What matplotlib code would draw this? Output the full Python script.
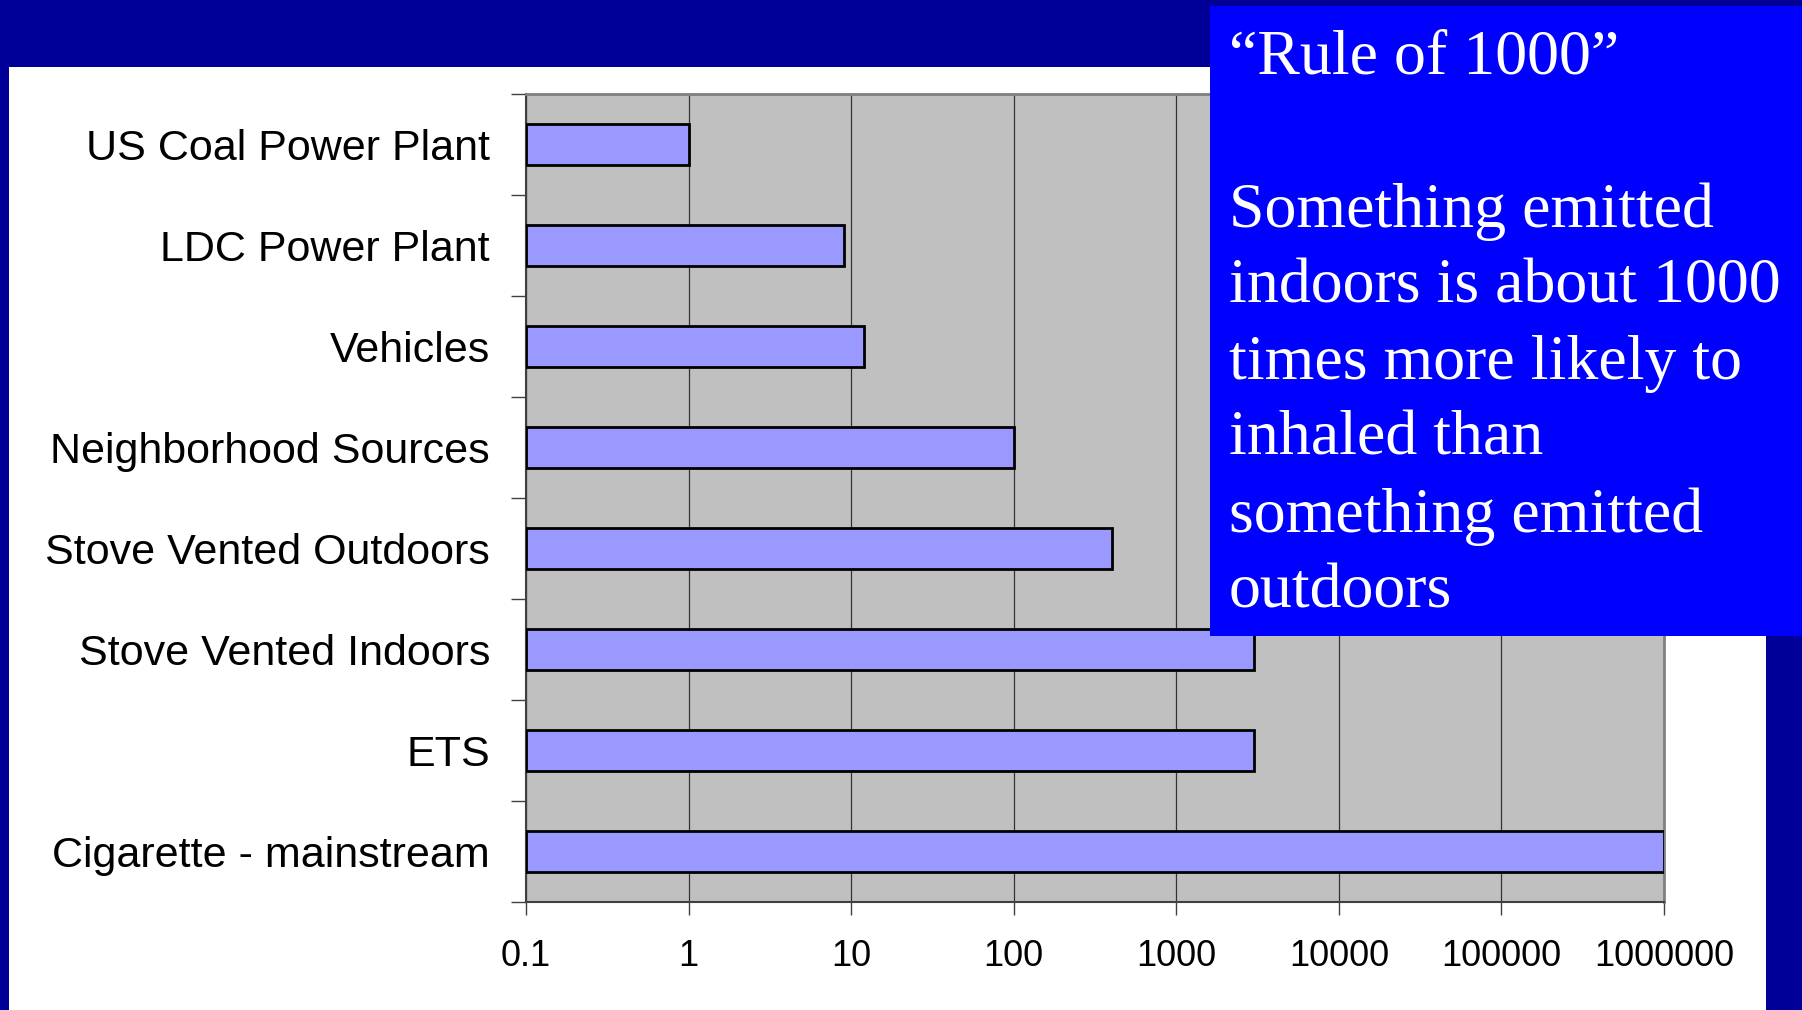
import numpy as np
import matplotlib.pyplot as plt
from matplotlib.patches import Rectangle

sources = ["US Coal Power Plant", "LDC Power Plant", "Vehicles",
           "Neighborhood Sources", "Stove Vented Outdoors",
           "Stove Vented Indoors", "ETS", "Cigarette - mainstream"]
intake = [1, 9, 12, 100, 400, 3000, 3000, 1000000]
xticks = [0.1, 1, 10, 100, 1000, 10000, 100000, 1000000]
xtick_labels = ["0.1", "1", "10", "100", "1000", "10000", "100000", "1000000"]

box_text = ("\u201cRule of 1000\u201d\n\nSomething emitted\nindoors is about 1000\n"
            "times more likely to\ninhaled than\nsomething emitted\noutdoors")

W, H = 1802, 1010
fig = plt.figure(figsize=(W / 100, H / 100), dpi=100)
fig.patch.set_facecolor("#000099")

# white slide area
fig.add_artist(Rectangle((9 / W, 0), (1766 - 9) / W, 1 - 67 / H,
                         transform=fig.transFigure, facecolor="white",
                         edgecolor="none", zorder=0))

ax = fig.add_axes([526 / W, 1 - 902 / H, (1664 - 526) / W, (902 - 94) / H])
ax.set_facecolor("#C0C0C0")

pos = np.arange(len(sources))
# bars start at the left edge of the log axis (0.1)
ax.barh(pos, np.array(intake) - 0.1, left=0.1, height=0.4, color="#9999FF",
        edgecolor="black", linewidth=2, zorder=3)

ax.set_xscale("log")
ax.set_xlim(0.1, 1e6)
ax.set_ylim(len(sources) - 0.5, -0.5)

ax.set_xticks(xticks)
ax.set_xticklabels(xtick_labels, fontsize=26, family="Liberation Sans")
ax.xaxis.set_minor_locator(plt.NullLocator())
ax.tick_params(axis="x", direction="out", length=9, width=1, color="#404040", pad=18)

ax.set_yticks(pos)
ax.set_yticklabels(sources, fontsize=31, family="Liberation Sans")
ax.set_yticks(np.arange(-0.5, len(sources)), minor=True)
ax.tick_params(axis="y", which="major", length=0, pad=26)
ax.tick_params(axis="y", which="minor", direction="out", length=11, width=1, color="#404040")

ax.grid(axis="x", which="major", color="#333333", linewidth=0.9)
ax.set_axisbelow(True)
for s in ["top", "right"]:
    ax.spines[s].set_color("#808080")
    ax.spines[s].set_linewidth(2)
for s in ["left", "bottom"]:
    ax.spines[s].set_color("#404040")
    ax.spines[s].set_linewidth(1.5)

# blue text box
fig.add_artist(Rectangle((1210 / W, 1 - 636 / H), (W - 1210) / W, (636 - 6) / H,
                         transform=fig.transFigure, facecolor="#0000FF",
                         edgecolor="none", zorder=10))
fig.text(1229 / W, 1 - 30 / H, box_text, fontsize=46, family="Liberation Serif",
         color="white", va="top", ha="left", linespacing=1.41, zorder=11)

fig.savefig("out.png", dpi=100, facecolor=fig.get_facecolor())
